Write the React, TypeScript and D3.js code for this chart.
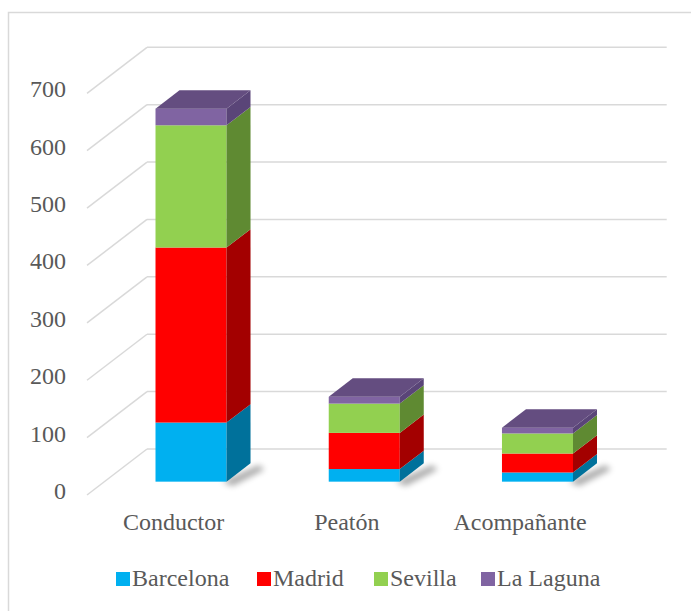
import * as d3 from 'd3';

const categories = ['Conductor', 'Peatón', 'Acompañante'];
const seriesNames = ['Barcelona', 'Madrid', 'Sevilla', 'La Laguna'];
const barcelona = [103, 22, 16];
const madrid = [305, 63, 33];
const sevilla = [213, 51, 35];
const laLaguna = [29, 12, 10];
const yTicks = [0, 100, 200, 300, 400, 500, 600, 700];

const frontColors = ['#00b0f0', '#ff0000', '#92d050', '#8064a2'];
const sideColors = ['#00719b', '#a30000', '#5f8a32', '#5a4578'];
const topColors = ['#007fae', '#b80000', '#6e9e3a', '#644d80'];

const W = 691;
const H = 611;
const font = "'Liberation Serif', 'Times New Roman', Times, serif";

// 3D box: front plane and a depth vector for the floor
const DX = 60;
const DY = 46;
const F0 = 0.29; // bar front depth
const F1 = 0.69; // bar back depth

export default function App() {
  const table = categories.map((c, i) => ({
    cat: c,
    Barcelona: barcelona[i],
    Madrid: madrid[i],
    Sevilla: sevilla[i],
    'La Laguna': laLaguna[i],
  }));
  const stacked = d3.stack<any>().keys(seriesNames)(table);

  const x = d3.scaleBand<string>()
    .domain(categories)
    .range([87, 606.7])
    .paddingInner(0.59)
    .paddingOuter(0.295);
  const y = d3.scaleLinear().domain([0, 700]).range([495, 93.3]);

  const bw = x.bandwidth();
  const bdx = DX * (F1 - F0);
  const bdy = DY * (F1 - F0);
  const pts = (p: number[][]) => p.map(q => q.join(',')).join(' ');

  return (
    <svg width={W} height={H} style={{ position: 'absolute', left: 0, top: 0, fontFamily: font }}>
      <defs>
        <filter id="shadow" x="-50%" y="-50%" width="200%" height="200%">
          <feGaussianBlur stdDeviation="3" />
        </filter>
      </defs>
      <rect x={0} y={0} width={W} height={H} fill="#fff" />
      <rect x={8.5} y={12.5} width={720} height={700} fill="#fff" stroke="#d9d9d9" strokeWidth={1.5} />

      {/* gridlines: side wall diagonals and back wall */}
      {yTicks.map(t => (
        <g key={t}>
          <line x1={87} y1={y(t)} x2={87 + DX} y2={y(t) - DY} stroke="#d9d9d9" strokeWidth={1.5} />
          <line x1={87 + DX} y1={y(t) - DY} x2={666.7} y2={y(t) - DY} stroke="#d9d9d9" strokeWidth={1.5} />
          <text x={66} y={y(t) + 4} textAnchor="end" fontSize={24} fill="#595959">
            {t}
          </text>
        </g>
      ))}

      {/* bars */}
      {categories.map((c, ci) => {
        const x0 = (x(c) || 0) + DX * F0;
        const x1 = x0 + bw;
        const yOff = DY * F0;
        const base = y(0) - yOff;
        return (
          <g key={c}>
            <polygon
              points={pts([[x1 - 4, base], [x1 + bdx + 8, base - bdy + 2], [x1 + bdx + 14, base - bdy + 6], [x1 + 6, base + 4]])}
              fill="#000"
              opacity={0.35}
              filter="url(#shadow)"
            />
            {stacked.map((s, si) => {
              const d = s[ci];
              const yb = y(d[0]) - yOff;
              const yt = y(d[1]) - yOff;
              const isTop = si === stacked.length - 1;
              return (
                <g key={s.key}>
                  <rect x={x0} y={yt} width={bw} height={yb - yt} fill={frontColors[si]} />
                  <polygon
                    points={pts([[x1, yb], [x1, yt], [x1 + bdx, yt - bdy], [x1 + bdx, yb - bdy]])}
                    fill={sideColors[si]}
                  />
                  {isTop && (
                    <polygon
                      points={pts([[x0, yt], [x1, yt], [x1 + bdx, yt - bdy], [x0 + bdx, yt - bdy]])}
                      fill={topColors[si]}
                    />
                  )}
                </g>
              );
            })}
          </g>
        );
      })}

      {/* category labels */}
      {categories.map(c => (
        <text key={c} x={(x(c) || 0) + bw / 2} y={530} textAnchor="middle" fontSize={24} fill="#595959">
          {c}
        </text>
      ))}

      {/* legend */}
      {seriesNames.map((s, i) => {
        const lx = [116, 257, 374, 481][i];
        return (
          <g key={s}>
            <rect x={lx} y={572} width={14} height={14} fill={frontColors[i]} />
            <text x={lx + 16} y={586} fontSize={24} fill="#595959">
              {s}
            </text>
          </g>
        );
      })}
    </svg>
  );
}
